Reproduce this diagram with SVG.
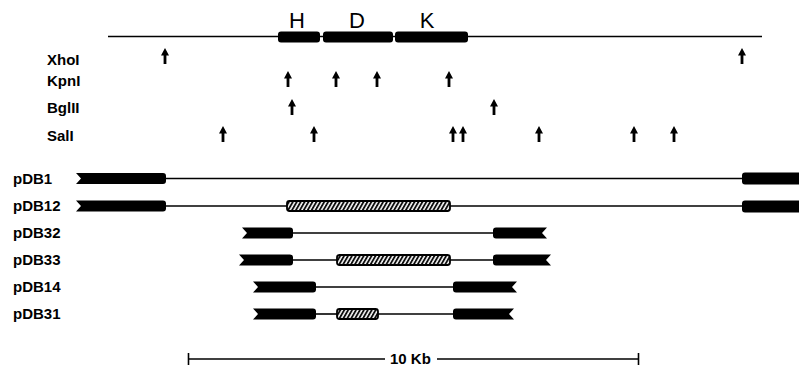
<svg xmlns="http://www.w3.org/2000/svg" xmlns:xlink="http://www.w3.org/1999/xlink" width="799" height="371" viewBox="0 0 799 371">
  <style>
    .ln { stroke: #000; stroke-width: 1.6; fill: none; }
    .blk { fill: #000; }
    .hat { fill: url(#hatch); stroke: #000; stroke-width: 1.8; }
    .gene { font-family: "Liberation Sans", Arial, sans-serif; font-size: 22px; fill: #000; text-anchor: middle; }
    .enz { font-family: "Liberation Sans", Arial, sans-serif; font-size: 15px; font-weight: bold; fill: #000; }
    .clone { font-family: "Liberation Sans", Arial, sans-serif; font-size: 15px; font-weight: bold; fill: #000; }
    .scale { font-family: "Liberation Sans", Arial, sans-serif; font-size: 15px; font-weight: bold; fill: #000; }
  </style>
  <defs>
    <!-- restriction site marker, tip at (0,0) -->
    <path id="site" d="M0,0 L4,7.5 L1.4,7.5 L1.4,16 L-1.4,16 L-1.4,7.5 L-4,7.5 Z" fill="#000"/>
    <pattern id="hatch" patternUnits="userSpaceOnUse" width="3.4" height="8" patternTransform="rotate(30)">
      <rect width="3.4" height="8" fill="#fff"/>
      <line x1="1" y1="0" x2="1" y2="8" stroke="#000" stroke-width="1.8"/>
    </pattern>
  </defs>

  <!-- genomic map with H, D, K regions -->
  <g id="map">
    <line class="ln" x1="108" y1="36.5" x2="762" y2="36.5"/>
    <rect class="blk" x="278" y="31.5" width="42" height="11" rx="3"/>
    <rect class="blk" x="323" y="31.5" width="70" height="11" rx="3"/>
    <rect class="blk" x="395" y="31.5" width="73" height="11" rx="3"/>
    <text class="gene" x="297" y="28">H</text>
    <text class="gene" x="357" y="28">D</text>
    <text class="gene" x="427" y="28">K</text>
  </g>

  <!-- restriction sites -->
  <g id="xhoI">
    <text class="enz" x="47" y="65">XhoI</text>
    <use xlink:href="#site" x="165" y="48"/>
    <use xlink:href="#site" x="742" y="48"/>
  </g>
  <g id="kpnI">
    <text class="enz" x="47" y="86">KpnI</text>
    <use xlink:href="#site" x="288" y="71"/>
    <use xlink:href="#site" x="336" y="71"/>
    <use xlink:href="#site" x="377" y="71"/>
    <use xlink:href="#site" x="449" y="71"/>
  </g>
  <g id="bglII">
    <text class="enz" x="47" y="113">BglII</text>
    <use xlink:href="#site" x="292" y="99"/>
    <use xlink:href="#site" x="494" y="99"/>
  </g>
  <g id="salI">
    <text class="enz" x="47" y="141">SalI</text>
    <use xlink:href="#site" x="223" y="126"/>
    <use xlink:href="#site" x="314" y="126"/>
    <use xlink:href="#site" x="453" y="126"/>
    <use xlink:href="#site" x="463" y="126"/>
    <use xlink:href="#site" x="539" y="126"/>
    <use xlink:href="#site" x="634" y="126"/>
    <use xlink:href="#site" x="674" y="126"/>
  </g>

  <!-- clones -->
  <g id="pDB1">
    <text class="clone" x="13" y="184">pDB1</text>
    <line class="ln" x1="166" y1="178.5" x2="744" y2="178.5"/>
    <path class="blk" d="M76,173 L163,173 Q166,173 166,176 L166,181 Q166,184 163,184 L76,184 L81,178.5 Z"/>
    <rect class="blk" x="742" y="172.5" width="60" height="12" rx="3"/>
  </g>
  <g id="pDB12">
    <text class="clone" x="13" y="211">pDB12</text>
    <line class="ln" x1="166" y1="206" x2="287" y2="206"/>
    <line class="ln" x1="450" y1="206" x2="744" y2="206"/>
    <path class="blk" d="M76,200.5 L163,200.5 Q166,200.5 166,203.5 L166,208.5 Q166,211.5 163,211.5 L76,211.5 L81,206 Z"/>
    <rect class="hat" x="287" y="201" width="163" height="10" rx="2.5"/>
    <rect class="blk" x="742" y="200.5" width="60" height="12" rx="3"/>
  </g>
  <g id="pDB32">
    <text class="clone" x="13" y="238">pDB32</text>
    <line class="ln" x1="293" y1="233" x2="493" y2="233"/>
    <path class="blk" d="M242,227.5 L290,227.5 Q293,227.5 293,230.5 L293,235.5 Q293,238.5 290,238.5 L242,238.5 L247,233 Z"/>
    <path class="blk" d="M496,227.5 L547,227.5 L542,233 L547,238.5 L496,238.5 Q493,238.5 493,235.5 L493,230.5 Q493,227.5 496,227.5 Z"/>
  </g>
  <g id="pDB33">
    <text class="clone" x="13" y="265">pDB33</text>
    <line class="ln" x1="293" y1="260" x2="337" y2="260"/>
    <line class="ln" x1="450" y1="260" x2="493" y2="260"/>
    <path class="blk" d="M239,254.5 L290,254.5 Q293,254.5 293,257.5 L293,262.5 Q293,265.5 290,265.5 L239,265.5 L244,260 Z"/>
    <rect class="hat" x="337" y="255" width="113" height="10" rx="2.5"/>
    <path class="blk" d="M496,254.5 L551,254.5 L546,260 L551,265.5 L496,265.5 Q493,265.5 493,262.5 L493,257.5 Q493,254.5 496,254.5 Z"/>
  </g>
  <g id="pDB14">
    <text class="clone" x="13" y="292">pDB14</text>
    <line class="ln" x1="316" y1="287" x2="453" y2="287"/>
    <path class="blk" d="M253,281.5 L313,281.5 Q316,281.5 316,284.5 L316,289.5 Q316,292.5 313,292.5 L253,292.5 L258,287 Z"/>
    <path class="blk" d="M456,281.5 L517,281.5 L512,287 L517,292.5 L456,292.5 Q453,292.5 453,289.5 L453,284.5 Q453,281.5 456,281.5 Z"/>
  </g>
  <g id="pDB31">
    <text class="clone" x="13" y="319">pDB31</text>
    <line class="ln" x1="316" y1="314" x2="337" y2="314"/>
    <line class="ln" x1="378" y1="314" x2="453" y2="314"/>
    <path class="blk" d="M253,308.5 L313,308.5 Q316,308.5 316,311.5 L316,316.5 Q316,319.5 313,319.5 L253,319.5 L258,314 Z"/>
    <rect class="hat" x="337" y="309" width="41" height="10" rx="2.5"/>
    <path class="blk" d="M456,308.5 L514,308.5 L509,314 L514,319.5 L456,319.5 Q453,319.5 453,316.5 L453,311.5 Q453,308.5 456,308.5 Z"/>
  </g>

  <!-- scale bar -->
  <g id="scalebar">
    <line class="ln" x1="188" y1="359" x2="385" y2="359"/>
    <line class="ln" x1="437" y1="359" x2="639" y2="359"/>
    <line class="ln" x1="188.5" y1="353" x2="188.5" y2="365"/>
    <line class="ln" x1="638.5" y1="353" x2="638.5" y2="365"/>
    <text class="scale" x="390" y="364">10 Kb</text>
  </g>
</svg>
